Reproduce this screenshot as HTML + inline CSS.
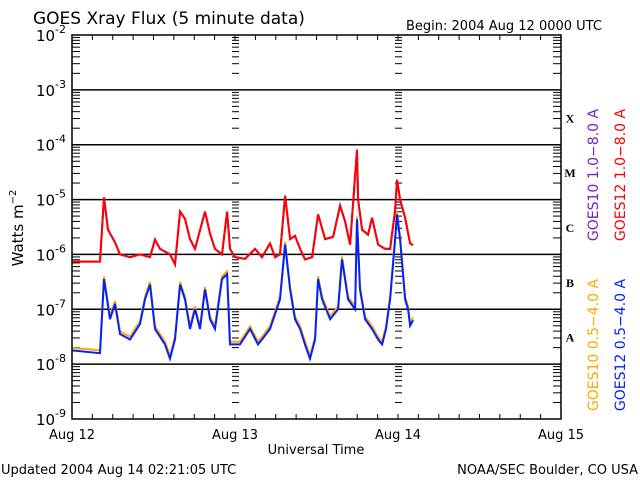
<!DOCTYPE html>
<html><head><meta charset="utf-8"><style>
html,body{margin:0;padding:0;background:#fff;}
svg{display:block;font-family:"DejaVu Sans","Liberation Sans",sans-serif;}
</style></head><body>
<svg id="chart" width="640" height="480" viewBox="0 0 640 480" xmlns="http://www.w3.org/2000/svg">
<rect width="640" height="480" fill="#fff"/>
<text x="33" y="24" font-size="17">GOES Xray Flux (5 minute data)</text>
<text x="406" y="30" font-size="13">Begin:  2004 Aug 12 0000 UTC</text>
<text x="316" y="454" font-size="13" text-anchor="middle">Universal Time</text>
<text x="1" y="474" font-size="13">Updated 2004 Aug 14 02:21:05 UTC</text>
<text x="638" y="474" font-size="13" text-anchor="end">NOAA/SEC Boulder, CO USA</text>
<text transform="translate(23,228) rotate(-90)" font-size="15" text-anchor="middle">Watts m<tspan font-size="10" dy="-7">−2</tspan></text>
<g id="grid"></g><g id="ticks"></g><g id="series"></g><g id="labels"></g>
<rect x="72" y="35" width="489" height="384" fill="none" stroke="#000" stroke-width="1.5"/>
<text transform="translate(598,175) rotate(-90)" font-size="14" fill="#7b1fbf" text-anchor="middle">GOES10 1.0−8.0 A</text>
<text transform="translate(625,175) rotate(-90)" font-size="14" fill="#ff0000" text-anchor="middle">GOES12 1.0−8.0 A</text>
<text transform="translate(598,345) rotate(-90)" font-size="14" fill="#ffa500" text-anchor="middle">GOES10 0.5−4.0 A</text>
<text transform="translate(625,345) rotate(-90)" font-size="14" fill="#0022ff" text-anchor="middle">GOES12 0.5−4.0 A</text>
</svg>
<script>
const dayLabels=["Aug 12","Aug 13","Aug 14","Aug 15"];
const decadeExps=[-2,-3,-4,-5,-6,-7,-8,-9];
const flareClasses=["A","B","C","M","X"];
const longHours=[0,4.12,4.71,5.30,6.33,7.07,8.54,10.01,11.49,12.22,12.96,14.43,15.17,15.91,16.64,17.38,18.11,19.59,20.32,21.06,22.09,22.83,23.27,24.01,25.48,26.95,27.98,29.16,29.9,30.63,31.37,32.11,32.84,33.58,34.31,35.35,36.23,37.26,38.44,39.47,40.21,40.94,41.97,42.12,42.71,43.59,44.18,45.07,46.1,46.83,47.57,47.86,48.31,49.04,49.78,50.22];
const long12=[-6.13,-6.13,-4.96,-5.55,-5.78,-6.0,-6.05,-6.0,-6.05,-5.73,-5.9,-6.0,-6.18,-5.22,-5.35,-5.72,-5.9,-5.22,-5.62,-5.9,-6.0,-5.22,-5.9,-6.05,-6.08,-5.9,-6.05,-5.8,-6.05,-6.0,-4.93,-5.72,-5.66,-5.9,-6.09,-6.05,-5.27,-5.72,-5.68,-5.11,-5.4,-5.82,-4.09,-5.0,-5.55,-5.64,-5.33,-5.82,-5.9,-5.9,-5.2,-4.64,-5.0,-5.33,-5.8,-5.83];
const long10=long12.slice();
const shortHours=[0,4.12,4.71,5.6,6.33,7.07,8.54,10.01,10.75,11.49,12.22,13.7,14.43,15.17,15.91,16.64,17.38,18.11,18.85,19.59,20.32,21.06,22.09,22.83,23.27,24.74,26.22,27.39,27.98,29.16,30.63,31.37,32.11,32.84,33.58,34.31,35.05,35.79,36.23,36.82,38.0,39.18,39.76,40.65,41.68,41.97,42.41,43.15,44.18,45.07,45.66,46.24,46.83,47.57,47.86,48.31,49.04,49.48,49.78,50.22];
const short12=[-7.75,-7.8,-6.45,-7.18,-6.9,-7.45,-7.55,-7.27,-6.82,-6.55,-7.36,-7.64,-7.9,-7.55,-6.55,-6.82,-7.36,-7.0,-7.36,-6.64,-7.18,-7.36,-6.45,-6.36,-7.64,-7.64,-7.36,-7.64,-7.55,-7.36,-6.82,-5.82,-6.64,-7.18,-7.36,-7.64,-7.9,-7.55,-6.45,-6.82,-7.18,-7.0,-6.09,-6.82,-7.0,-5.36,-6.64,-7.18,-7.36,-7.55,-7.64,-7.36,-6.82,-5.73,-5.27,-5.73,-6.82,-7.0,-7.3,-7.2];
const short10=short12.map(v=>v+0.05);
const X0=72,X1=561,Y0=35,Y1=419;
const xs=h=>X0+(X1-X0)*h/72;
const ys=l=>Y0+(Y1-Y0)*(-2-l)/7;
const NS="http://www.w3.org/2000/svg";
function mk(tag,attrs,parent){const e=document.createElementNS(NS,tag);for(const k in attrs)e.setAttribute(k,attrs[k]);parent.appendChild(e);return e;}
const grid=document.getElementById('grid'),ticks=document.getElementById('ticks'),series=document.getElementById('series'),labels=document.getElementById('labels');
decadeExps.forEach(e=>{
  const y=ys(e);
  if(e>-9&&e<-2){const l=mk('line',{x1:X0,x2:X1,y1:y,y2:y,stroke:'#000','stroke-width':1.5},grid);
  
  }
  const t=mk('text',{x:66,y:y+6,'font-size':15,'text-anchor':'end'},labels);
  
  
  t.innerHTML='10<tspan font-size="11" dy="-8">'+e+'</tspan>';
  if(e>-9){for(let m=2;m<=9;m++){const yy=ys(e-1+Math.log10(m));
    [[X0,X0+8],[X1-8,X1],[xs(24)-3,xs(24)+4],[xs(48)-3,xs(48)+4]].forEach(p=>mk('line',{x1:p[0],x2:p[1],y1:yy,y2:yy,stroke:'#000','stroke-width':1},ticks));}}
});
for(let h=3;h<72;h+=3){[[Y0,Y0+5],[Y1-5,Y1]].forEach(p=>mk('line',{x1:xs(h),x2:xs(h),y1:p[0],y2:p[1],stroke:'#000'},ticks));}
dayLabels.forEach((d,i)=>{const t=mk('text',{x:xs(i*24),y:439,'font-size':13,'text-anchor':'middle'},labels);
  
  
  t.textContent=d;});
flareClasses.forEach((c,i)=>{const t=mk('text',{x:570,y:ys(-7.5+i)+5,'font-size':12,'font-weight':'bold','font-family':'Liberation Serif, serif','text-anchor':'middle'},labels);
  
  
  t.textContent=c;});
function draw(hrs,vals,color,name){const d=vals.map((v,i)=>(i?'L':'M')+xs(hrs[i]).toFixed(1)+' '+ys(v).toFixed(1)).join(' ');
  const p=mk('path',{d:d,fill:'none',stroke:color,'stroke-width':2},series);
  
  }
draw(shortHours,short10,'#ffa500','series-goes10-short');
draw(shortHours,short12,'#0022ff','series-goes12-short');
draw(longHours,long10,'#7b1fbf','series-goes10-long');
draw(longHours,long12,'#ff0000','series-goes12-long');
</script>
</body></html>
